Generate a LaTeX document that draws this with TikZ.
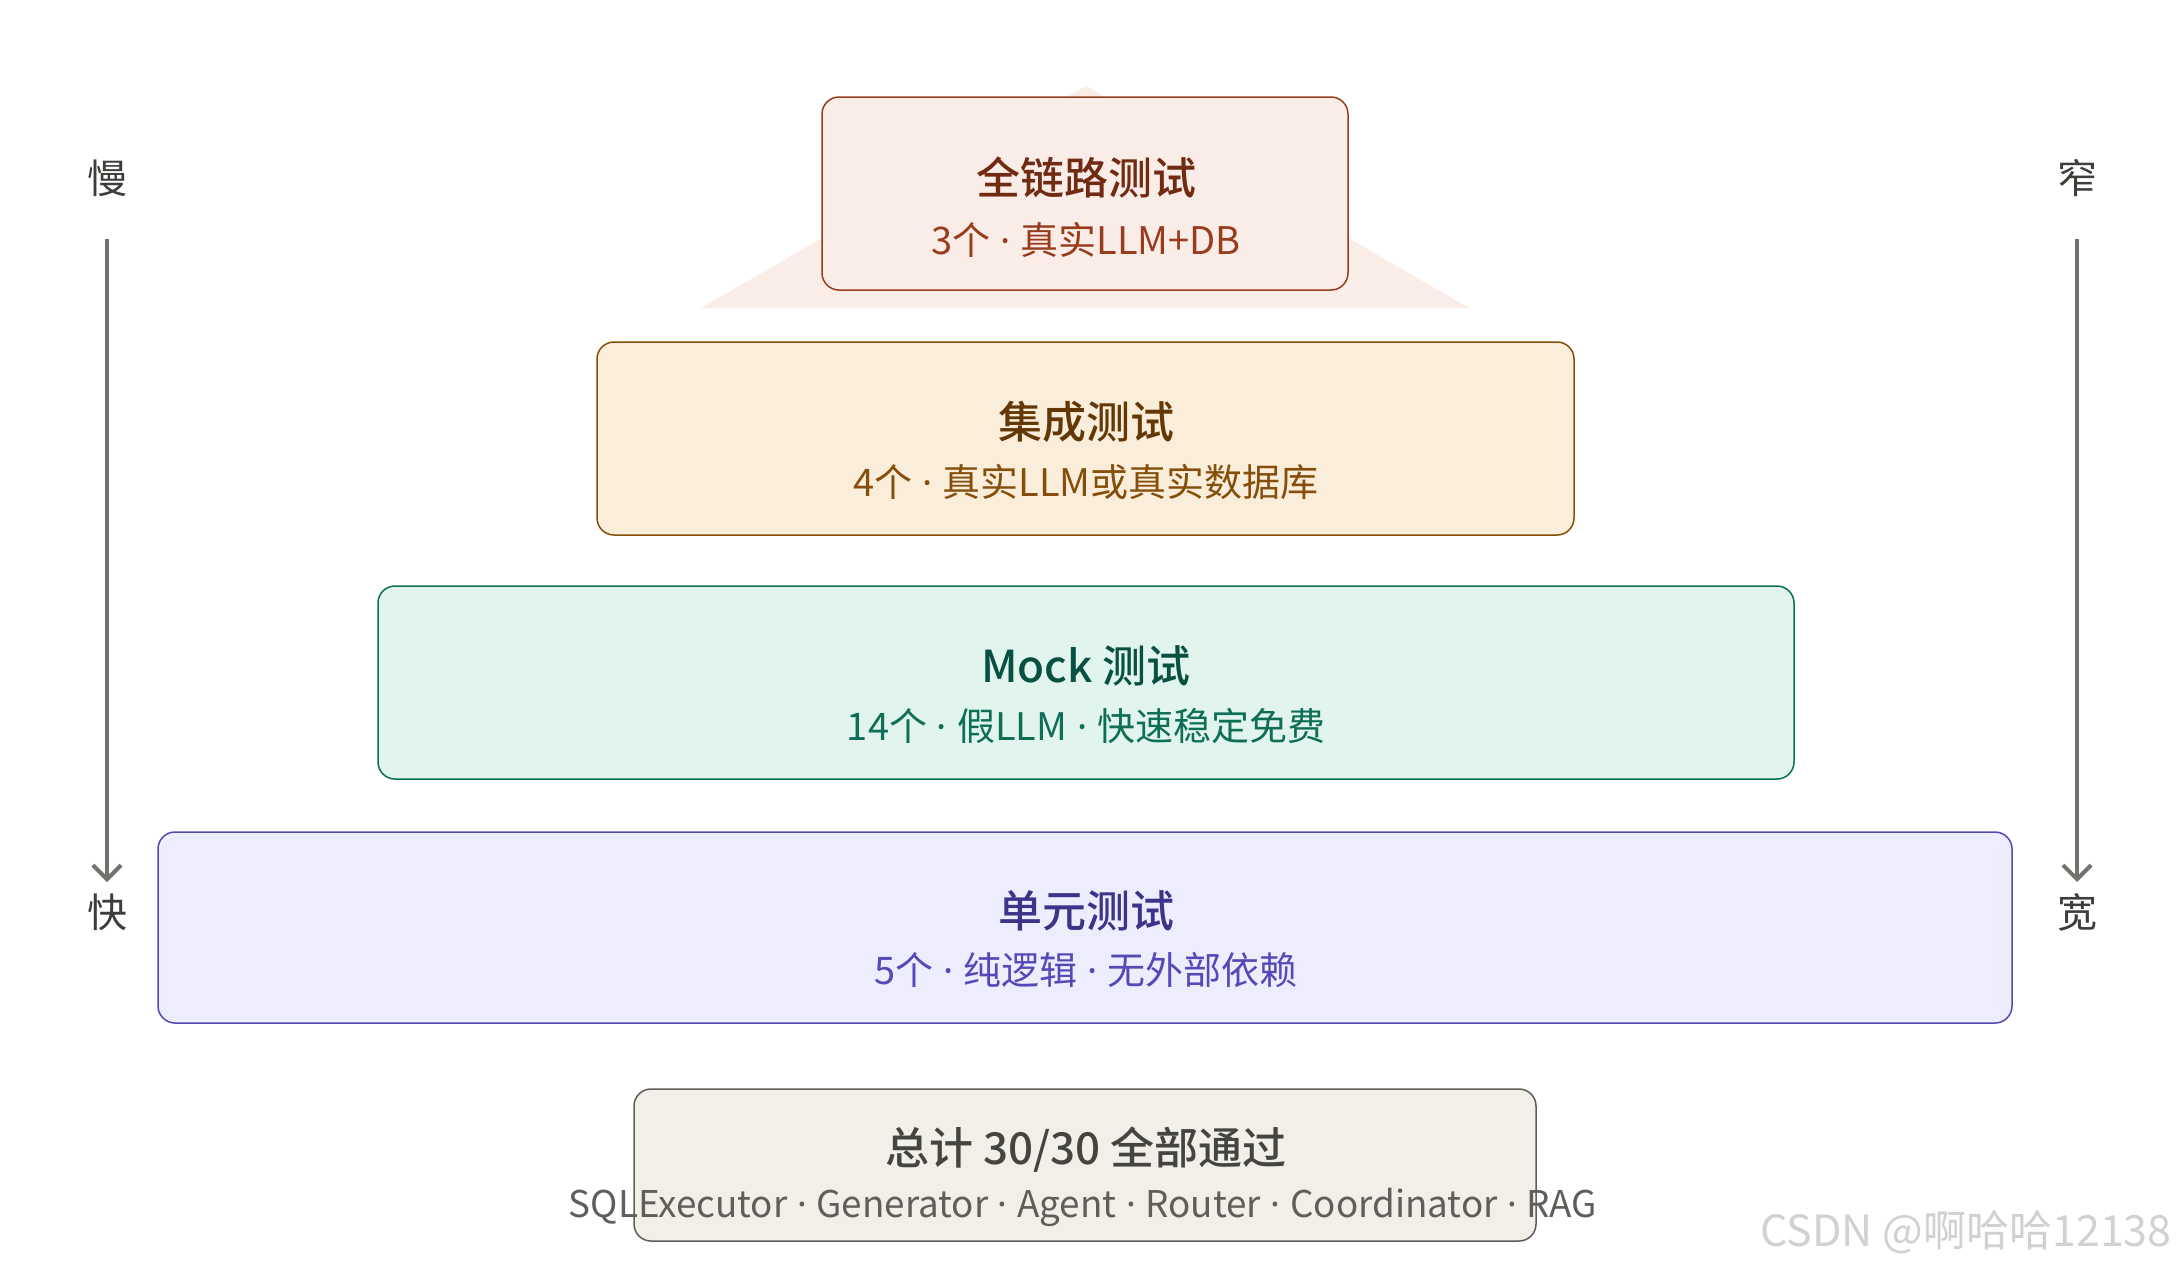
\documentclass[tikz,border=0pt]{standalone}
\usepackage{fontspec}
\setmainfont{Noto Sans CJK SC}[BoldFont={Noto Sans CJK SC Medium}]
\newfontfamily\latfont{Noto Sans}
\newcommand\mdot{{\latfont\ ·\ }}
\usetikzlibrary{arrows.meta}
\definecolor{rF}{HTML}{FAECE7}\definecolor{rB}{HTML}{993C1D}\definecolor{rT}{HTML}{712B13}
\definecolor{oF}{HTML}{FAEEDA}\definecolor{oB}{HTML}{854F0B}\definecolor{oT}{HTML}{633806}
\definecolor{gF}{HTML}{E1F5EE}\definecolor{gB}{HTML}{0F6E56}\definecolor{gT}{HTML}{085041}
\definecolor{pF}{HTML}{EEEDFE}\definecolor{pB}{HTML}{534AB7}\definecolor{pT}{HTML}{3C3489}
\definecolor{nF}{HTML}{F1EFE8}\definecolor{nB}{HTML}{5F5E5A}\definecolor{nT}{HTML}{444441}
\definecolor{arrc}{HTML}{73726C}
\definecolor{sidec}{HTML}{3D3D3A}
\begin{document}
\begin{tikzpicture}[x=0.5pt,y=-0.5pt,
  layer/.style={draw, line width=0.75pt, rounded corners=8.5pt, minimum height=96.5pt, inner sep=0pt},
  ttl/.style={font=\bfseries\fontsize{22}{26}\selectfont, inner sep=0pt, anchor=center},
  sub/.style={font=\fontsize{19}{22}\selectfont, inner sep=0pt, anchor=center},
  side/.style={font=\fontsize{20}{24}\selectfont, text=sidec, inner sep=0pt},
  arr/.style={draw=arrc, line width=2pt, -{Straight Barb[length=7pt,width=14pt,line width=2pt]}}
]
\useasboundingbox[fill=white] (0,0) rectangle (2177,1271);
% background triangle
\fill[rF] (1086,86) -- (1469,308) -- (701,308) -- cycle;
% layers
\node[layer, fill=rF, draw=rB, minimum width=263pt] (l1) at (1085,193.5) {};
\node[layer, fill=oF, draw=oB, minimum width=488.5pt] (l2) at (1085.5,438.5) {};
\node[layer, fill=gF, draw=gB, minimum width=708pt] (l3) at (1086,682.5) {};
\node[layer, fill=pF, draw=pB, minimum width=927pt, minimum height=95.5pt] (l4) at (1085,927.5) {};
\node[layer, fill=nF, draw=nB, minimum width=451pt, minimum height=76pt] (l5) at (1085,1165) {};
% texts
\node[ttl, text=rT] (t1) at (1086,178) {全链路测试};
\node[sub, text=rB] (s1) at (1086,240) {3个\mdot 真实LLM+DB};
\node[ttl, text=oT] (t2) at (1086,422) {集成测试};
\node[sub, text=oB] (s2) at (1086,482) {4个\mdot 真实LLM或真实数据库};
\node[ttl, text=gT] (t3) at (1086,666) {Mock 测试};
\node[sub, text=gB] (s3) at (1086,726) {14个\mdot 假LLM\mdot 快速稳定免费};
\node[ttl, text=pT] (t4) at (1086,911) {单元测试};
\node[sub, text=pB] (s4) at (1086,970) {5个\mdot 纯逻辑\mdot 无外部依赖};
\node[ttl, text=nT] (t5) at (1086,1150) {总计 30/30 全部通过};
\node[sub, font=\fontsize{18.4}{22}\selectfont, text=nB] (s5) at (1083,1207) {SQLExecutor\mdot Generator\mdot Agent\mdot Router\mdot Coordinator\mdot RAG};
% side axes
\node[side] (slow) at (107,178) {慢};
\node[side] (fast) at (107,912) {快};
\node[side] (narrow) at (2077,178) {窄};
\node[side] (wide) at (2077,912) {宽};
\coordinate (la) at (107,239); \coordinate (lb) at (107,882);
\coordinate (ra) at (2077,239); \coordinate (rb) at (2077,882);
\draw[arr] (la) -- (lb);
\draw[arr] (ra) -- (rb);
% watermark
\node[font=\fontsize{21.5}{25}\selectfont, text=black!18, anchor=east, inner sep=0pt] (wm) at (2172,1232) {CSDN @啊哈哈12138};
\end{tikzpicture}
\end{document}
